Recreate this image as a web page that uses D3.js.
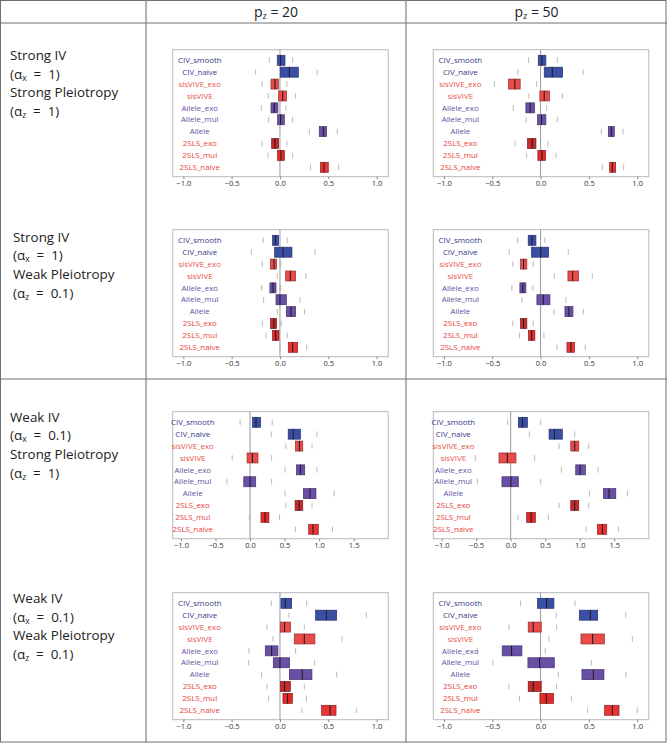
<!DOCTYPE html>
<html>
<head>
<meta charset="utf-8">
<script src="https://cdn.jsdelivr.net/npm/d3@7"></script>
<style>
  body { margin: 0; background: #fff; }
  text { font-family: "Open Sans", "Noto Sans", sans-serif; }
</style>
</head>
<body>
<div id="chart"></div>
<script>
const methods = ["CIV_smooth", "CIV_naive", "sisVIVE_exo", "sisVIVE", "Allele_exo",
  "Allele_mul", "Allele", "2SLS_exo", "2SLS_mul", "2SLS_naive"];
const labelColors = ["#35378a", "#35378a", "#e8504a", "#e8504a", "#6650a2",
  "#6650a2", "#6650a2", "#e8403c", "#e8403c", "#e8403c"];
const boxColors = ["#3a4ea6", "#3a4ea6", "#ea4a4a", "#ea4a4a", "#6a4fa6",
  "#6a4fa6", "#6a4fa6", "#c62a2a", "#e22a2a", "#ea3434"];

const columnTitles = ["20", "50"];
const rowTitles = [
  ["Strong IV", "x", "1", "Strong Pleiotropy", "z", "1"],
  ["Strong IV", "x", "1", "Weak Pleiotropy", "z", "0.1"],
  ["Weak IV", "x", "0.1", "Strong Pleiotropy", "z", "1"],
  ["Weak IV", "x", "0.1", "Weak Pleiotropy", "z", "0.1"]
];

// each row: [lower staple, q1, median, q3, upper staple]
const statsA = [
  [-0.11, -0.028, 0.007, 0.052, 0.131],
  [-0.252, 0.003, 0.097, 0.19, 0.386],
  [-0.186, -0.093, -0.052, -0.017, 0.072],
  [-0.121, -0.014, 0.028, 0.069, 0.159],
  [-0.193, -0.093, -0.059, -0.021, 0.062],
  [-0.117, -0.024, 0.007, 0.045, 0.131],
  [0.304, 0.407, 0.449, 0.483, 0.594],
  [-0.186, -0.086, -0.052, -0.014, 0.072],
  [-0.124, -0.024, 0.01, 0.045, 0.131],
  [0.317, 0.418, 0.455, 0.5, 0.607]
];
const statsB = [
  [-0.124, -0.024, 0.014, 0.055, 0.173],
  [-0.235, 0.038, 0.121, 0.228, 0.439],
  [-0.477, -0.332, -0.266, -0.211, -0.041],
  [-0.121, -0.007, 0.038, 0.093, 0.228],
  [-0.283, -0.152, -0.107, -0.062, 0.062],
  [-0.149, -0.031, 0.01, 0.055, 0.173],
  [0.629, 0.701, 0.732, 0.763, 0.853],
  [-0.263, -0.135, -0.086, -0.048, 0.076],
  [-0.145, -0.028, 0.014, 0.052, 0.159],
  [0.639, 0.715, 0.743, 0.777, 0.86]
];
const statsC = [
  [-0.173, -0.076, -0.048, -0.014, 0.076],
  [-0.297, -0.055, 0.031, 0.124, 0.362],
  [-0.183, -0.1, -0.062, -0.035, 0.01],
  [-0.028, 0.059, 0.107, 0.162, 0.269],
  [-0.19, -0.104, -0.072, -0.041, 0.007],
  [-0.169, -0.041, 0.0, 0.066, 0.207],
  [-0.028, 0.066, 0.114, 0.162, 0.255],
  [-0.183, -0.097, -0.062, -0.035, 0.014],
  [-0.145, -0.076, -0.045, -0.01, 0.076],
  [0.0, 0.086, 0.131, 0.183, 0.276]
];
const statsD = [
  [-0.238, -0.128, -0.09, -0.048, 0.045],
  [-0.325, -0.093, 0.003, 0.083, 0.287],
  [-0.287, -0.207, -0.176, -0.142, -0.076],
  [0.142, 0.283, 0.332, 0.394, 0.535],
  [-0.297, -0.214, -0.183, -0.152, -0.079],
  [-0.193, -0.038, 0.028, 0.097, 0.263],
  [0.138, 0.252, 0.294, 0.335, 0.442],
  [-0.287, -0.207, -0.176, -0.142, -0.076],
  [-0.218, -0.124, -0.093, -0.059, 0.035],
  [0.169, 0.273, 0.314, 0.352, 0.463]
];
const statsE = [
  [-0.144, 0.034, 0.086, 0.153, 0.321],
  [0.307, 0.552, 0.624, 0.729, 0.969],
  [0.518, 0.657, 0.715, 0.763, 0.897],
  [-0.259, -0.043, 0.034, 0.115, 0.312],
  [0.508, 0.671, 0.729, 0.791, 0.969],
  [-0.336, -0.091, 0.0, 0.082, 0.312],
  [0.508, 0.772, 0.868, 0.954, 1.218],
  [0.518, 0.652, 0.71, 0.763, 0.897],
  [-0.01, 0.158, 0.216, 0.273, 0.427],
  [0.657, 0.849, 0.911, 0.988, 1.194]
];
const statsF = [
  [-0.043, 0.111, 0.169, 0.242, 0.435],
  [0.271, 0.556, 0.633, 0.749, 0.928],
  [0.7, 0.87, 0.928, 0.986, 1.13],
  [-0.512, -0.169, -0.048, 0.077, 0.348],
  [0.734, 0.942, 1.005, 1.082, 1.266],
  [-0.483, -0.126, 0.005, 0.111, 0.435],
  [1.14, 1.343, 1.425, 1.522, 1.69],
  [0.7, 0.87, 0.928, 0.986, 1.13],
  [0.106, 0.232, 0.295, 0.357, 0.546],
  [1.092, 1.256, 1.329, 1.391, 1.56]
];
const statsG = [
  [-0.09, 0.01, 0.055, 0.121, 0.276],
  [0.093, 0.369, 0.48, 0.587, 0.894],
  [-0.135, 0.003, 0.048, 0.11, 0.252],
  [-0.072, 0.148, 0.252, 0.362, 0.642],
  [-0.321, -0.152, -0.086, -0.021, 0.162],
  [-0.324, -0.069, 0.0, 0.1, 0.359],
  [-0.19, 0.097, 0.231, 0.331, 0.587],
  [-0.135, 0.007, 0.048, 0.107, 0.252],
  [-0.117, 0.031, 0.079, 0.128, 0.273],
  [0.228, 0.431, 0.518, 0.58, 0.79]
];
const statsH = [
  [-0.207, -0.031, 0.062, 0.138, 0.356],
  [0.162, 0.401, 0.515, 0.591, 0.881],
  [-0.328, -0.128, -0.076, 0.007, 0.166],
  [0.086, 0.418, 0.539, 0.66, 0.95],
  [-0.656, -0.397, -0.3, -0.193, 0.048],
  [-0.494, -0.131, -0.01, 0.142, 0.525],
  [0.183, 0.428, 0.546, 0.656, 0.884],
  [-0.328, -0.128, -0.076, 0.007, 0.166],
  [-0.218, -0.007, 0.059, 0.135, 0.318],
  [0.487, 0.663, 0.743, 0.812, 1.0]
];

const domainStrong = [-1.11, 1.12];
const domainWeak = [-1.12, 2.0];
const ticksStrong = [-1, -0.5, 0, 0.5, 1];
const ticksWeak = [-1, -0.5, 0, 0.5, 1, 1.5];

const width = 667, height = 743;
const colX = [146, 406];
const headerY = 23, midY = 379;

const svg = d3.select("#chart").append("svg")
  .attr("width", width)
  .attr("height", height);

// table grid
const grid = svg.append("g").attr("stroke", "#6f6f6f").attr("fill", "none");
grid.append("rect").attr("x", 0.5).attr("y", 0.5).attr("width", width - 1.5).attr("height", height - 1.5);
grid.append("line").attr("x1", 0).attr("x2", width).attr("y1", headerY).attr("y2", headerY);
grid.append("line").attr("x1", 0).attr("x2", width).attr("y1", midY).attr("y2", midY);
colX.forEach(cx => {
  grid.append("line").attr("x1", cx).attr("x2", cx).attr("y1", 0).attr("y2", height)
    .attr("stroke", "#8a8a8a").attr("stroke-width", 1.3);
});

// column headers
columnTitles.forEach((t, i) => {
  const cx = i === 0 ? (colX[0] + colX[1]) / 2 : (colX[1] + width) / 2;
  const txt = svg.append("text").attr("x", cx).attr("y", 16.5)
    .attr("text-anchor", "middle").attr("font-size", 14).attr("fill", "#222");
  txt.append("tspan").text("p");
  txt.append("tspan").attr("font-size", 9).attr("dy", 2.5).text("z");
  txt.append("tspan").attr("dy", -2.5).text(" = " + t);
});

// row titles
const titleX = [10, 13, 10, 13];
const titleY = [60, 241.5, 421.5, 603];
rowTitles.forEach((r, i) => {
  const g = svg.append("g").attr("font-size", 13.4).attr("fill", "#222");
  const lines = [
    [r[0]], ["(α", r[1], "  =  " + r[2] + ")"],
    [r[3]], ["(α", r[4], "  =  " + r[5] + ")"]
  ];
  lines.forEach((ln, j) => {
    const t = g.append("text").attr("x", titleX[i]).attr("y", titleY[i] + j * 18.7)
      .attr("xml:space", "preserve").style("white-space", "pre");
    if (ln.length === 1) { t.text(ln[0]); return; }
    t.append("tspan").text(ln[0]);
    t.append("tspan").attr("font-size", 8.5).attr("dy", 2).text(ln[1]);
    t.append("tspan").attr("dy", -2).text(ln[2]);
  });
});

// panels
const pw = 215.5, ph = 127;
const panelX = [172.7, 433.3];
const panelY = [49.7, 229.7, 411.7, 592.7];
const panels = [
  {stats: statsA, c: 0, r: 0, domain: domainStrong, ticks: ticksStrong},
  {stats: statsB, c: 1, r: 0, domain: domainStrong, ticks: ticksStrong},
  {stats: statsC, c: 0, r: 1, domain: domainStrong, ticks: ticksStrong},
  {stats: statsD, c: 1, r: 1, domain: domainStrong, ticks: ticksStrong},
  {stats: statsE, c: 0, r: 2, domain: domainWeak, ticks: ticksWeak},
  {stats: statsF, c: 1, r: 2, domain: domainWeak, ticks: ticksWeak},
  {stats: statsG, c: 0, r: 3, domain: domainStrong, ticks: ticksStrong},
  {stats: statsH, c: 1, r: 3, domain: domainStrong, ticks: ticksStrong}
];

panels.forEach(p => drawPanel(p, panelX[p.c], panelY[p.r]));

function drawPanel(p, x0, y0) {
  const g = svg.append("g");
  const x = d3.scaleLinear().domain(p.domain).range([x0, x0 + pw]);
  const y = d3.scalePoint().domain(methods).range([y0 + 10.6, y0 + ph - 9.4]);

  g.append("rect")
    .attr("x", x0).attr("y", y0).attr("width", pw).attr("height", ph)
    .attr("fill", "none").attr("stroke", "#b8b8b8");

  g.append("line")
    .attr("x1", x(0)).attr("x2", x(0)).attr("y1", y0).attr("y2", y0 + ph)
    .attr("stroke", "#9a9a9a");

  const axis = g.append("g")
    .attr("transform", `translate(0,${y0 + ph})`)
    .call(d3.axisBottom(x).tickValues(p.ticks).tickSize(2.5).tickPadding(1.5).tickFormat(d3.format(".1f")));
  axis.select(".domain").remove();
  axis.selectAll(".tick line").attr("stroke", "#888");
  axis.selectAll(".tick text").attr("font-size", 7.6).attr("fill", "#333")
    .attr("font-family", "'Open Sans', sans-serif");

  methods.forEach((m, i) => {
    const [lo, q1, med, q3, hi] = p.stats[i];
    const cy = y(m);
    [lo, hi].forEach(v => {
      g.append("line")
        .attr("x1", x(v)).attr("x2", x(v)).attr("y1", cy - 2.8).attr("y2", cy + 2.8)
        .attr("stroke", "#a8a8a8").attr("stroke-width", 0.8);
    });
    g.append("rect")
      .attr("x", x(q1)).attr("y", cy - 5)
      .attr("width", x(q3) - x(q1)).attr("height", 10)
      .attr("fill", boxColors[i])
      .attr("stroke", d3.color(boxColors[i]).darker(1.3))
      .attr("stroke-width", 0.7);
    g.append("line")
      .attr("x1", x(med)).attr("x2", x(med)).attr("y1", cy - 5).attr("y2", cy + 5)
      .attr("stroke", "#1a1a1a").attr("stroke-width", 1);
    g.append("text")
      .attr("x", x(-0.83)).attr("y", cy + 2.7)
      .attr("text-anchor", "middle")
      .attr("font-size", 7.9)
      .attr("fill", labelColors[i])
      .text(m);
  });
}
</script>
</body>
</html>
